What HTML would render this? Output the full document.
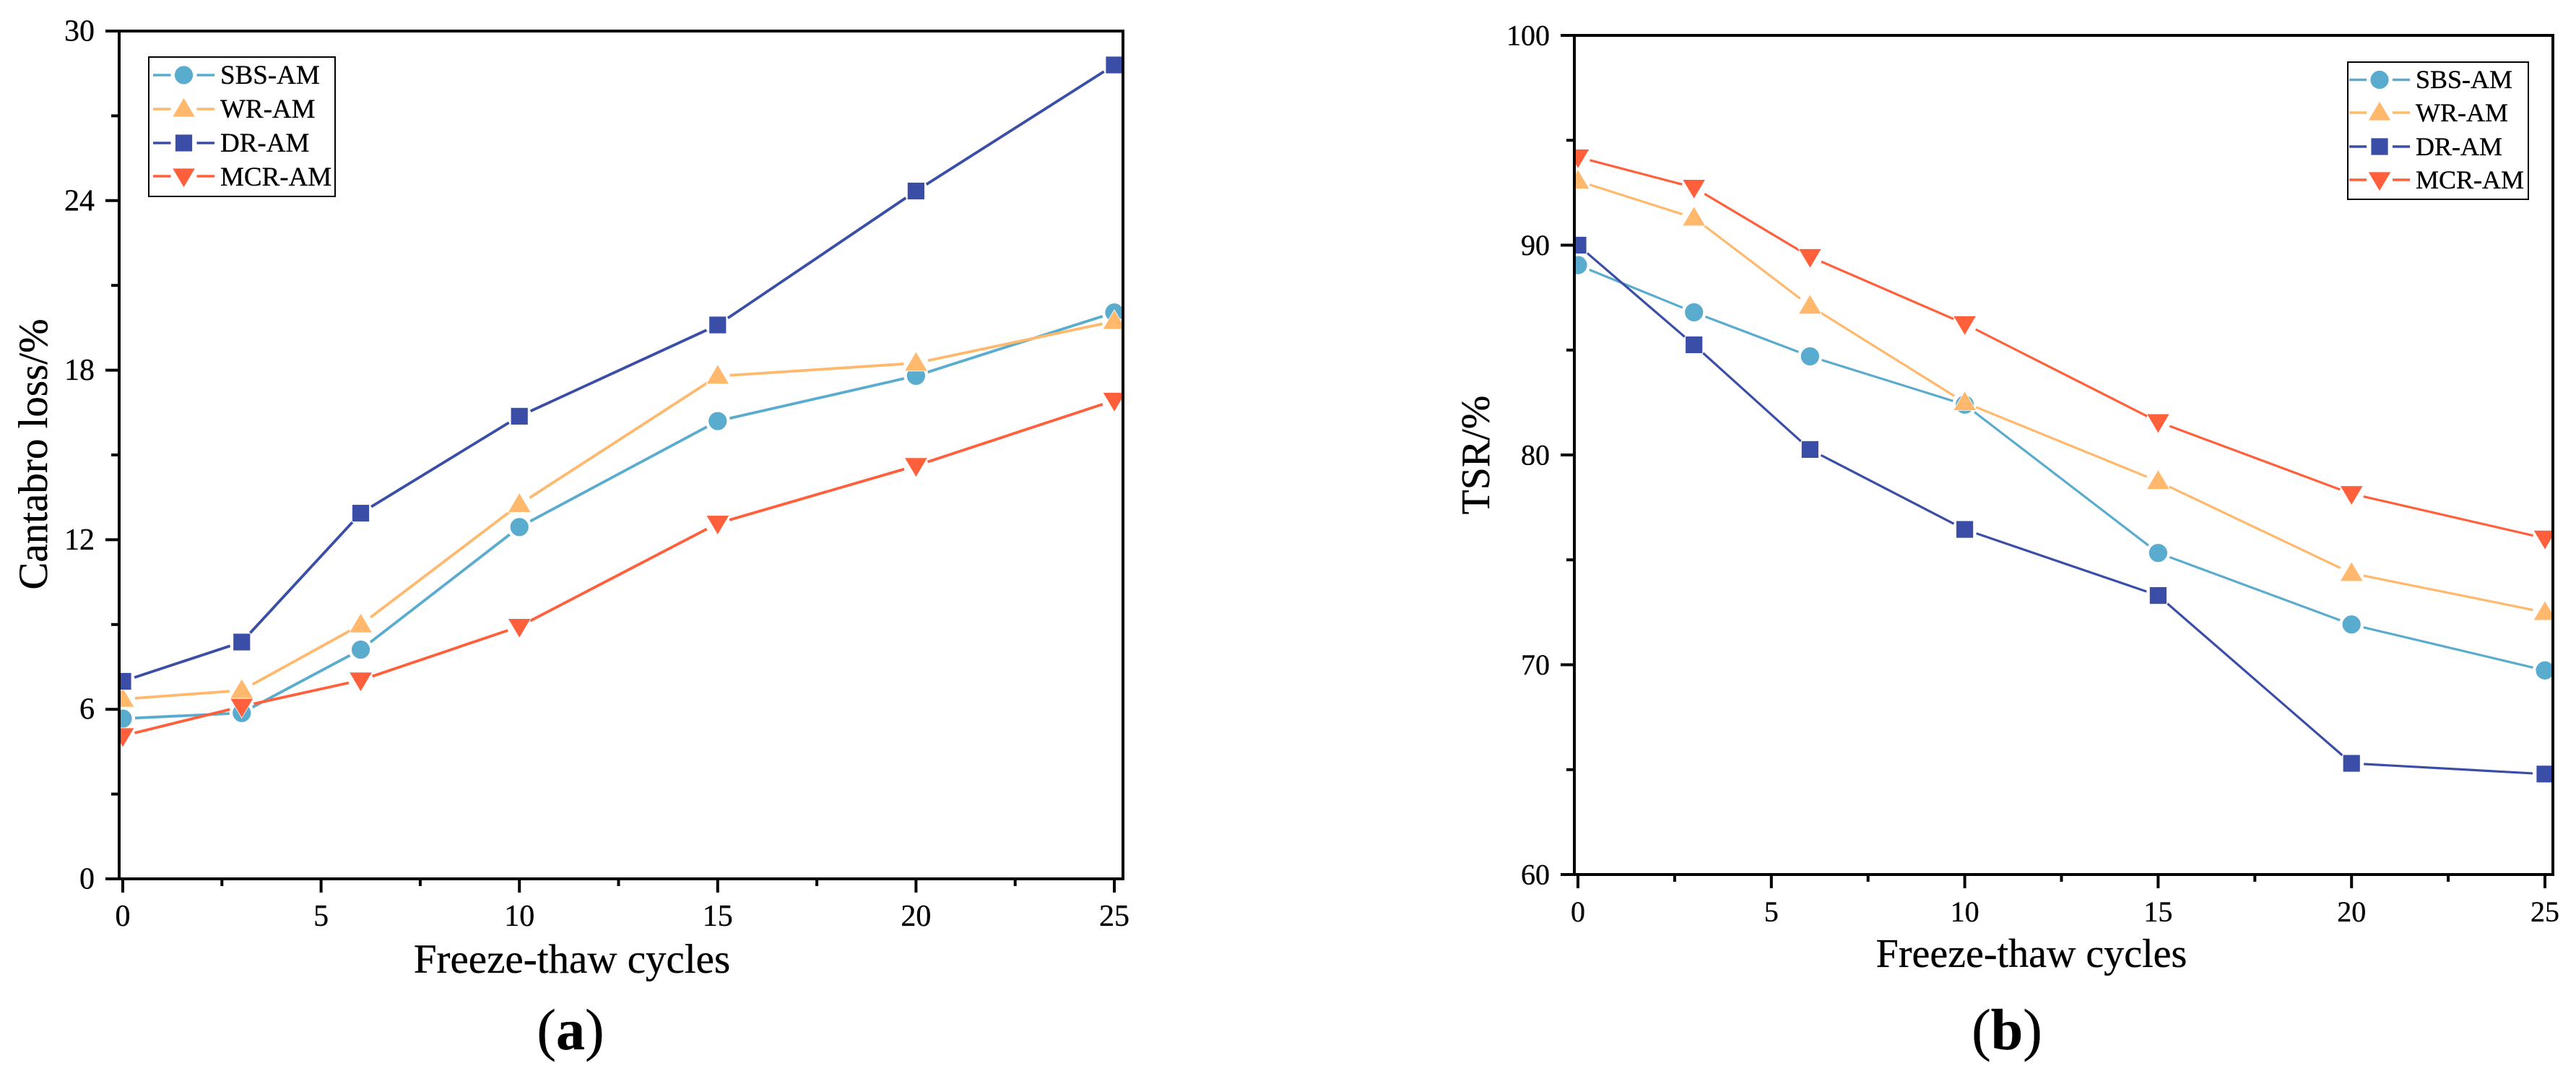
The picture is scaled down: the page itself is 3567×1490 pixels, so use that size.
<!DOCTYPE html>
<html lang="en">
<head>
<meta charset="utf-8">
<title>Cantabro loss and TSR versus freeze-thaw cycles</title>
<style>
html,body{margin:0;padding:0;background:#fff;width:3567px;height:1490px;overflow:hidden}
svg{display:block}
text{font-family:"Liberation Serif","Times New Roman",serif;fill:#000;stroke:#000;stroke-width:0.35px}
</style>
</head>
<body>
<svg id="figure" xmlns="http://www.w3.org/2000/svg" width="3567" height="1490" viewBox="0 0 3567 1490">
  <rect x="0" y="0" width="3567" height="1490" fill="#fff"/>
  <defs>
    <clipPath id="clip-a"><rect x="165" y="43" width="1390" height="1174"/></clipPath>
    <clipPath id="clip-b"><rect x="2180" y="49" width="1355" height="1162"/></clipPath>
  </defs>

  <g id="panel-a">
    <g id="series-a" clip-path="url(#clip-a)"></g>
    <g id="axes-a"></g>
    <text x="792" y="1347" font-size="57" text-anchor="middle">Freeze-thaw cycles</text>
    <text transform="translate(65 629) rotate(-90)" font-size="57" text-anchor="middle">Cantabro loss/%</text>
    <g>
      <rect x="206" y="79" width="258" height="193" fill="#fff" stroke="#000" stroke-width="2"/>
      <g id="legend-keys-a"></g>
      <text x="305" y="116" font-size="37">SBS-AM</text>
      <text x="305" y="163" font-size="37">WR-AM</text>
      <text x="305" y="210" font-size="37">DR-AM</text>
      <text x="305" y="257" font-size="37">MCR-AM</text>
    </g>
    <text x="790" y="1453" font-size="80" text-anchor="middle">(<tspan font-weight="bold">a</tspan>)</text>
  </g>

  <g id="panel-b">
    <g id="series-b" clip-path="url(#clip-b)"></g>
    <g id="axes-b"></g>
    <text x="2813" y="1339" font-size="56" text-anchor="middle">Freeze-thaw cycles</text>
    <text transform="translate(2062 630) rotate(-90)" font-size="56" text-anchor="middle">TSR/%</text>
    <g>
      <rect x="3251" y="86" width="250" height="190" fill="#fff" stroke="#000" stroke-width="2"/>
      <g id="legend-keys-b"></g>
      <text x="3345" y="122" font-size="36">SBS-AM</text>
      <text x="3345" y="168" font-size="36">WR-AM</text>
      <text x="3345" y="215" font-size="36">DR-AM</text>
      <text x="3345" y="261" font-size="36">MCR-AM</text>
    </g>
    <text x="2779" y="1453" font-size="80" text-anchor="middle">(<tspan font-weight="bold">b</tspan>)</text>
  </g>
</svg>

<script>
// ---- data ----
const cycles = [0, 3, 6, 10, 15, 20, 25];

const lossSBS = [5.67, 5.87, 8.11, 12.45, 16.2, 17.8, 20.04];
const lossWR  = [6.36, 6.67, 8.99, 13.25, 17.79, 18.25, 19.73];
const lossDR  = [6.99, 8.38, 12.94, 16.37, 19.6, 24.34, 28.8];
const lossMCR = [5.06, 6.1, 7.03, 8.93, 12.58, 14.62, 16.93];

const tsrSBS = [89.05, 86.8, 84.7, 82.4, 75.33, 71.92, 69.73];
const tsrWR  = [93.06, 91.3, 87.1, 82.5, 78.74, 74.36, 72.5];
const tsrDR  = [90.0, 85.25, 80.26, 76.45, 73.3, 65.3, 64.79];
const tsrMCR = [94.2, 92.75, 89.45, 86.25, 81.58, 78.15, 76.03];

const xMajorTicks = [0, 5, 10, 15, 20, 25];
const xMinorTicks = [2.5, 7.5, 12.5, 17.5, 22.5];
const lossMajorTicks = [0, 6, 12, 18, 24, 30];
const lossMinorTicks = [3, 9, 15, 21, 27];
const tsrMajorTicks = [60, 70, 80, 90, 100];
const tsrMinorTicks = [65, 75, 85, 95];

// ---- drawing ----
const NS = 'http://www.w3.org/2000/svg';
const COLORS = { sbs: '#5aaccf', wr: '#ffb86c', dr: '#3a4ea7', mcr: '#ff5f3b' };

function make(tag, attrs, parent) {
  const node = document.createElementNS(NS, tag);
  for (const key in attrs) node.setAttribute(key, attrs[key]);
  parent.appendChild(node);
  return node;
}

function drawMarker(kind, cx, cy, parent, label) {
  let node;
  const paint = { fill: COLORS[kind], stroke: '#fff', 'stroke-width': 0.8 };
  if (kind === 'sbs') {
    node = make('circle', Object.assign({ cx: cx, cy: cy, r: 13 }, paint), parent);
  } else if (kind === 'dr') {
    node = make('rect', Object.assign({ x: cx - 12, y: cy - 12, width: 24, height: 24 }, paint), parent);
  } else if (kind === 'wr') {
    const pts = [cx + ',' + (cy - 16), (cx + 16) + ',' + (cy + 11), (cx - 16) + ',' + (cy + 11)].join(' ');
    node = make('polygon', Object.assign({ points: pts }, paint), parent);
  } else {
    const pts = [cx + ',' + (cy + 16), (cx + 16) + ',' + (cy - 11), (cx - 16) + ',' + (cy - 11)].join(' ');
    node = make('polygon', Object.assign({ points: pts }, paint), parent);
  }
  
  
}

function drawSeries(kind, xs, ys, xScale, yScale, parent, prefix, width) {
  const group = make('g', {}, parent);
  
  
  const gap = 17;
  for (let i = 0; i < xs.length - 1; i++) {
    const x1 = xScale(xs[i]), y1 = yScale(ys[i]);
    const x2 = xScale(xs[i + 1]), y2 = yScale(ys[i + 1]);
    const len = Math.hypot(x2 - x1, y2 - y1);
    const ux = (x2 - x1) / len, uy = (y2 - y1) / len;
    const seg = make('line', {
      x1: x1 + ux * gap, y1: y1 + uy * gap,
      x2: x2 - ux * gap, y2: y2 - uy * gap,
      stroke: COLORS[kind], 'stroke-width': width
    }, group);
    
    
  }
  xs.forEach(function (xv, i) {
    drawMarker(kind, xScale(xv), yScale(ys[i]), group, prefix + '-point-' + kind);
  });
}

function drawAxes(box, xScale, yScale, xMajor, xMinor, yMajor, yMinor, parent, prefix, fontSize, xLabelBase) {
  const sw = 4;
  const stroke = { stroke: '#000', 'stroke-width': sw };

  const frame = make('rect', Object.assign({ x: box.left, y: box.top, width: box.right - box.left, height: box.bottom - box.top, fill: 'none' }, stroke), parent);
  
  

  yMajor.forEach(function (v) {
    const y = yScale(v);
    const tick = make('line', Object.assign({ x1: box.left - 19, x2: box.left, y1: y, y2: y }, stroke), parent);
    
    
    const label = make('text', { x: box.left - 34, y: y + 13.5, 'font-size': fontSize, 'text-anchor': 'end' }, parent);
    label.textContent = String(v);
    
    
  });
  yMinor.forEach(function (v) {
    const y = yScale(v);
    const tick = make('line', Object.assign({ x1: box.left - 11, x2: box.left, y1: y, y2: y }, stroke), parent);
    
    
  });
  xMajor.forEach(function (v) {
    const x = xScale(v);
    const tick = make('line', Object.assign({ x1: x, x2: x, y1: box.bottom, y2: box.bottom + 19 }, stroke), parent);
    
    
    const label = make('text', { x: x, y: xLabelBase, 'font-size': fontSize, 'text-anchor': 'middle' }, parent);
    label.textContent = String(v);
    
    
  });
  xMinor.forEach(function (v) {
    const x = xScale(v);
    const tick = make('line', Object.assign({ x1: x, x2: x, y1: box.bottom, y2: box.bottom + 10 }, stroke), parent);
    
    
  });
}

function drawLegendKey(kind, x1, x2, y, parent, prefix) {
  const cx = (x1 + x2) / 2;
  [[x1, cx - 18], [cx + 18, x2]].forEach(function (part) {
    const seg = make('line', { x1: part[0], x2: part[1], y1: y, y2: y, stroke: COLORS[kind], 'stroke-width': 3.6 }, parent);
    
    
  });
  drawMarker(kind, cx, y, parent, prefix + '-legend-marker-' + kind);
}

// panel (a)
const boxA = { left: 165, right: 1555, top: 43, bottom: 1217 };
const xA = function (v) { return 170 + (v - 0) * (1543 - 170) / 25; };
const yA = function (v) { return boxA.bottom - (v - 0) * (boxA.bottom - boxA.top) / 30; };
const seriesA = document.getElementById('series-a');
drawSeries('sbs', cycles, lossSBS, xA, yA, seriesA, 'panel-a', 3.8);
drawSeries('wr', cycles, lossWR, xA, yA, seriesA, 'panel-a', 3.8);
drawSeries('dr', cycles, lossDR, xA, yA, seriesA, 'panel-a', 3.8);
drawSeries('mcr', cycles, lossMCR, xA, yA, seriesA, 'panel-a', 3.8);
drawAxes(boxA, xA, yA, xMajorTicks, xMinorTicks, lossMajorTicks, lossMinorTicks, document.getElementById('axes-a'), 'panel-a', 42, 1282);

const keysA = document.getElementById('legend-keys-a');
drawLegendKey('sbs', 212, 297, 104, keysA, 'panel-a');
drawLegendKey('wr', 212, 297, 151, keysA, 'panel-a');
drawLegendKey('dr', 212, 297, 198, keysA, 'panel-a');
drawLegendKey('mcr', 212, 297, 244, keysA, 'panel-a');

// panel (b)
const boxB = { left: 2180, right: 3535, top: 49, bottom: 1211 };
const xB = function (v) { return 2185 + (v - 0) * (3524 - 2185) / 25; };
const yB = function (v) { return boxB.bottom - (v - 60) * (boxB.bottom - boxB.top) / 40; };
const seriesB = document.getElementById('series-b');
drawSeries('sbs', cycles, tsrSBS, xB, yB, seriesB, 'panel-b', 3.2);
drawSeries('wr', cycles, tsrWR, xB, yB, seriesB, 'panel-b', 3.2);
drawSeries('dr', cycles, tsrDR, xB, yB, seriesB, 'panel-b', 3.2);
drawSeries('mcr', cycles, tsrMCR, xB, yB, seriesB, 'panel-b', 3.2);
drawAxes(boxB, xB, yB, xMajorTicks, xMinorTicks, tsrMajorTicks, tsrMinorTicks, document.getElementById('axes-b'), 'panel-b', 40, 1276);

const keysB = document.getElementById('legend-keys-b');
drawLegendKey('sbs', 3253, 3337, 110.5, keysB, 'panel-b');
drawLegendKey('wr', 3253, 3337, 156, keysB, 'panel-b');
drawLegendKey('dr', 3253, 3337, 203, keysB, 'panel-b');
drawLegendKey('mcr', 3253, 3337, 249, keysB, 'panel-b');
</script>
</body>
</html>
